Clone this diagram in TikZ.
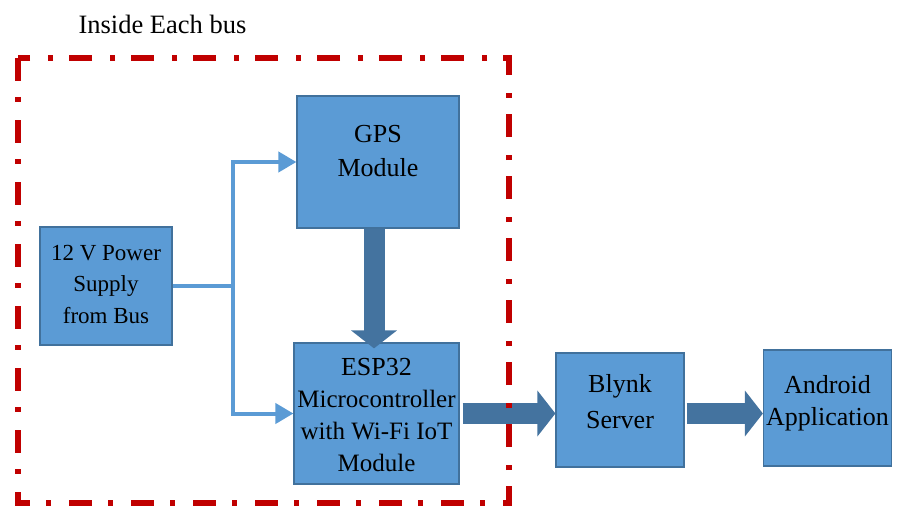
\documentclass[tikz,border=0pt]{standalone}
\usepackage{fontspec}
\setmainfont{Liberation Serif}
\usetikzlibrary{arrows.meta,positioning}

\definecolor{boxblue}{HTML}{5B9BD5}
\definecolor{edgeblue}{HTML}{41719C}
\definecolor{flowblue}{HTML}{44739F}
\definecolor{busred}{HTML}{C00000}

\begin{document}
\begin{tikzpicture}[x=1pt,y=-1pt,
  box/.style={rectangle,draw=edgeblue,fill=boxblue,line width=1.2pt,inner sep=0pt},
  txt/.style={align=center,inner sep=0pt,font=\fontsize{26}{32}\selectfont},
  feed/.style={draw=boxblue,line width=4pt,-{Triangle[width=20pt,length=18pt]}},
  flow/.style={draw=flowblue,line width=21pt,-{Triangle[width=45pt,length=18pt]}},
  busline/.style={draw=busred,line width=5.5pt,dash pattern=on 23pt off 16pt on 5pt off 18pt}]
\useasboundingbox (0,0) rectangle (901,508);

\node[txt,font=\fontsize{26.5}{32}\selectfont](title) at (162.5,24) {Inside Each bus};

\node[box,minimum width=132,minimum height=118](power) at (106,286) {};
\node[box,minimum width=162,minimum height=132](gps) at (378,162) {};
\node[box,minimum width=165,minimum height=141](esp) at (376.5,413.5) {};
\node[box,minimum width=128,minimum height=114](blynk) at (620,410) {};
\node[box,minimum width=128,minimum height=116](android) at (827.5,408) {};

\node[txt,font=\fontsize{23}{31.5}\selectfont](powertext) at (106,284) {12 V Power\\Supply\\from Bus};
\node[txt,font=\fontsize{26}{34}\selectfont](gpstext) at (378,151) {GPS\\Module};
\node[txt,font=\fontsize{25}{32}\selectfont](esptext) at (376.5,415) {{\fontsize{26}{32}\selectfont ESP32}\\Microcontroller\\with Wi-Fi IoT\\Module};
\node[txt,font=\fontsize{26}{36}\selectfont](blynktext) at (620,402) {Blynk\\Server};
\node[txt,font=\fontsize{26}{32}\selectfont](androidtext) at (827.5,403) {Android\\Application};

\coordinate (split) at (233,286);
\coordinate (drop) at (374,0);

\draw[draw=boxblue,line width=4pt](power.east) -- (split);
\draw[feed](split) |- (gps.west);
\draw[feed](split) |- (esp.west);

\draw[flow](gps.south -| drop) -- ([yshift=-6pt]esp.north -| drop);
\draw[flow]([xshift=3pt]esp.east) -- (blynk.west |- esp.east);
\draw[flow]([xshift=2pt]blynk.east |- esp.east) -- (android.west |- esp.east);

\draw[busline](18,58) rectangle (509,503);
\end{tikzpicture}
\end{document}
